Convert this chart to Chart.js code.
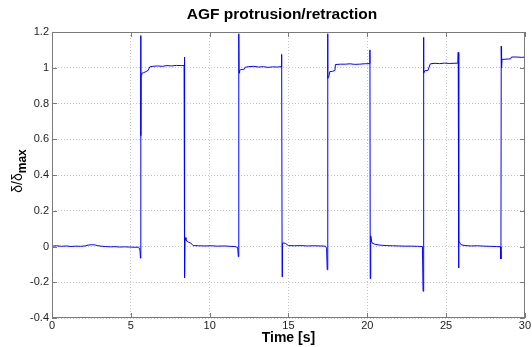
<!DOCTYPE html>
<html><head><meta charset="utf-8">
<script src="https://cdn.jsdelivr.net/npm/chart.js@4/dist/chart.umd.min.js"></script>
<style>html,body{margin:0;padding:0;background:#fff}#wrap{width:532px;height:347px}</style>
</head><body><div id="wrap"><canvas id="c" width="532" height="347"></canvas></div>
<script>
const titleText = 'AGF protrusion/retraction';
const xLabel = 'Time [s]';
const yLabelMain = 'δ/δ';
const yLabelSub = 'max';
const xTicks = [0, 5, 10, 15, 20, 25, 30];
const yTicks = [-0.4, -0.2, 0, 0.2, 0.4, 0.6, 0.8, 1, 1.2];

const timeS = [
  0, 0.3, 0.6, 0.9, 1.2, 1.5, 1.8, 2.1, 2.3, 2.5, 2.7, 2.9, 3.1, 3.4, 3.7, 4.0, 4.3, 4.6, 4.9, 5.2, 5.5, 5.58, 5.61,
  5.63, 5.64, 5.65, 5.7, 5.8, 5.95, 6.1, 6.2, 6.4, 6.7, 7.0, 7.3, 7.6, 7.9, 8.2, 8.38, 8.40,
  8.42, 8.44, 8.5, 8.65, 8.8, 8.95, 9.3, 9.7, 10.1, 10.5, 10.9, 11.3, 11.6, 11.78, 11.82,
  11.85, 11.87, 11.9, 12.0, 12.2, 12.26, 12.5, 12.8, 13.1, 13.4, 13.7, 14.0, 14.3, 14.55, 14.57,
  14.6, 14.62, 14.8, 15.0, 15.4, 15.8, 16.2, 16.6, 17.0, 17.35, 17.42, 17.46,
  17.49, 17.5, 17.55, 17.62, 17.8, 17.95, 17.98, 18.3, 18.6, 18.9, 19.2, 19.5, 19.8, 20.15, 20.17,
  20.19, 20.22, 20.3, 20.5, 20.8, 21.2, 21.6, 22.0, 22.4, 22.8, 23.2, 23.5, 23.54,
  23.57, 23.59, 23.65, 23.85, 24.0, 24.3, 24.6, 24.9, 25.2, 25.5, 25.75, 25.77,
  25.79, 25.82, 25.95, 26.2, 26.6, 27.0, 27.4, 27.8, 28.2, 28.45, 28.48,
  28.5, 28.52, 28.55, 28.8, 29.1, 29.15, 29.5, 29.8, 30.0
];
const deltaRatio = [
  0.002, 0.004, 0.001, 0.003, 0.0, 0.002, 0.001, 0.003, 0.008, 0.01, 0.009, 0.005, 0.002, 0.0, -0.002, -0.001, -0.003, -0.002, -0.003, -0.004, -0.004, -0.02, -0.065,
  1.18, 0.62, 0.96, 0.97, 0.972, 0.978, 0.985, 1.005, 1.008, 1.01, 1.008, 1.012, 1.01, 1.013, 1.012, 1.013, 1.06,
  -0.175, 0.05, 0.035, 0.025, 0.02, 0.005, 0.004, 0.003, 0.004, 0.002, 0.003, 0.001, 0.0, -0.005, -0.057,
  1.19, 0.97, 0.985, 0.99, 0.992, 1.003, 1.006, 1.008, 1.004, 1.006, 1.002, 1.005, 1.004, 1.006, 1.075,
  -0.17, 0.02, 0.018, 0.005, 0.004, 0.005, 0.003, 0.004, 0.003, 0.002, -0.01, -0.13,
  1.19, 0.94, 0.945, 0.978, 0.98, 0.985, 1.018, 1.02, 1.02, 1.022, 1.019, 1.02, 1.022, 1.023, 1.10,
  -0.18, 0.06, 0.02, 0.012, 0.008, 0.005, 0.004, 0.003, 0.002, 0.002, 0.001, 0.0, -0.25,
  1.17, 0.97, 0.983, 0.985, 1.022, 1.025, 1.023, 1.026, 1.024, 1.025, 1.026, 1.086,
  -0.12, 0.03, 0.01, 0.005, 0.003, 0.004, 0.002, 0.001, 0.0, -0.002, -0.07,
  1.12, 1.0, 1.047, 1.048, 1.05, 1.06, 1.06, 1.058, 1.06
];

const points = timeS.map((t, i) => ({x: t, y: deltaRatio[i]}));
const FONT = '"Liberation Sans", Arial, sans-serif';

const decor = {
  id: 'decor',
  afterDraw(chart) {
    const {ctx, chartArea: a, scales: {x, y}} = chart;
    ctx.save();
    ctx.strokeStyle = '#7a7a7a';
    ctx.lineWidth = 1;
    ctx.strokeRect(Math.round(a.left) + 0.5, Math.round(a.top) + 0.5, Math.round(a.right - a.left) - 1, Math.round(a.bottom - a.top) - 1);
    const tl = 5;
    ctx.beginPath();
    xTicks.forEach(v => {
      const px = Math.round(x.getPixelForValue(v)) + 0.5;
      ctx.moveTo(px, a.bottom); ctx.lineTo(px, a.bottom - tl);
      ctx.moveTo(px, a.top); ctx.lineTo(px, a.top + tl);
    });
    yTicks.forEach(v => {
      const py = Math.round(y.getPixelForValue(v)) + 0.5;
      ctx.moveTo(a.left, py); ctx.lineTo(a.left + tl, py);
      ctx.moveTo(a.right, py); ctx.lineTo(a.right - tl, py);
    });
    ctx.stroke();
    ctx.fillStyle = '#000';
    ctx.textAlign = 'center';
    ctx.textBaseline = 'middle';
    ctx.font = 'bold 15.5px ' + FONT;
    ctx.fillText(titleText, 282, 15);
    ctx.font = 'bold 14px ' + FONT;
    ctx.fillText(xLabel, (a.left + a.right) / 2, 338);
    ctx.translate(18, 171);
    ctx.rotate(-Math.PI / 2);
    ctx.textAlign = 'left';
    ctx.textBaseline = 'alphabetic';
    ctx.font = '14px ' + FONT;
    const w1 = ctx.measureText(yLabelMain).width;
    ctx.font = 'bold 12px ' + FONT;
    const w2 = ctx.measureText(yLabelSub).width;
    const start = -(w1 + w2) / 2;
    ctx.font = '14px ' + FONT;
    ctx.fillText(yLabelMain, start, 4);
    ctx.font = 'bold 12px ' + FONT;
    ctx.fillText(yLabelSub, start + w1, 8);
    ctx.restore();
  }
};

new Chart(document.getElementById('c'), {
  type: 'line',
  data: {
    datasets: [{
      data: points,
      borderColor: '#0000ff',
      borderWidth: 1,
      pointRadius: 0,
      tension: 0,
      fill: false
    }]
  },
  options: {
    responsive: false,
    animation: false,
    events: [],
    layout: {padding: {top: 32, right: 6, left: 0, bottom: 0}},
    plugins: {legend: {display: false}, title: {display: false}, tooltip: {enabled: false}},
    scales: {
      x: {
        type: 'linear', min: 0, max: 30,
        afterBuildTicks(s) { s.ticks = xTicks.map(v => ({value: v})); },
        afterFit(s) { s.height = 29; },
        grid: {color: '#c4c4c4', drawTicks: false},
        border: {display: false, dash: [1, 2]},
        ticks: {padding: 1, color: '#222', font: {family: FONT, size: 11}, maxRotation: 0, autoSkip: false}
      },
      y: {
        type: 'linear', min: -0.4, max: 1.2,
        afterBuildTicks(s) { s.ticks = yTicks.map(v => ({value: v})); },
        afterFit(s) { s.width = 52; },
        grid: {color: '#c4c4c4', drawTicks: false},
        border: {display: false, dash: [1, 2]},
        ticks: {padding: 3, color: '#222', font: {family: FONT, size: 11}, autoSkip: false,
          callback: v => String(Math.round(v * 10) / 10)}
      }
    }
  },
  plugins: [decor]
});
</script>
</body></html>
